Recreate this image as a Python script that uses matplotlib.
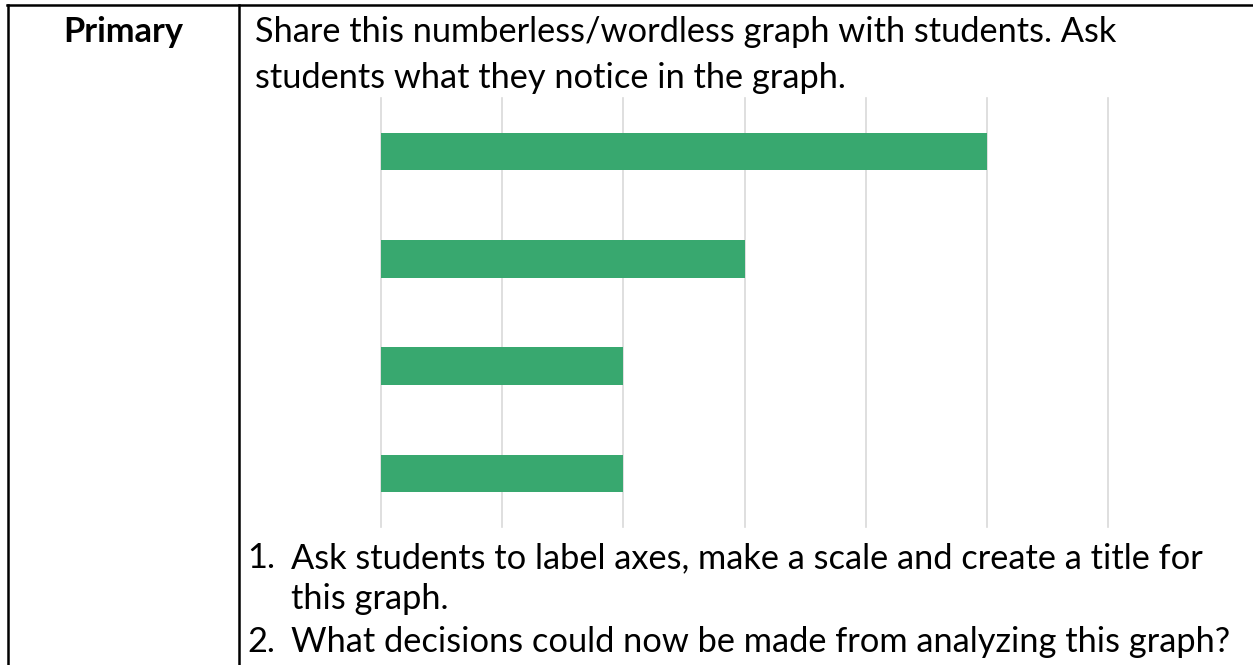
import matplotlib
matplotlib.use("Agg")
import matplotlib.pyplot as plt
from matplotlib.lines import Line2D

# wordless bar chart: four bars, no labels
categories = ["", "", "", ""]
values = [5, 3, 2, 2]
x_max = 6

header = "Primary"
intro = ["Share this numberless/wordless graph with students. Ask",
         "students what they notice in the graph."]
steps = [("1.", ["Ask students to label axes, make a scale and create a title for",
                 "this graph."]),
         ("2.", ["What decisions could now be made from analyzing this graph?"])]

W, H = 1253, 665
plt.rcParams['font.family'] = ['Lato', 'DejaVu Sans']

fig = plt.figure(figsize=(W / 100, H / 100), dpi=100)


def px(x, y):
    # pixel coords (from top-left) -> figure fraction
    return x / W, 1 - y / H


def fit_size(s, width, weight="normal"):
    t = fig.text(0, 0, s, fontsize=20, weight=weight)
    r = fig.canvas.get_renderer()
    w = t.get_window_extent(r).width
    t.remove()
    return 20 * width / w


body_fs = fit_size(intro[0], 865)
head_fs = fit_size(header, 120, weight="bold")

# table borders
for (x0, y0, x1, y1) in [(7, 5, W, 5), (8, 5, 8, H), (239, 5, 239, H)]:
    a, b = px(x0, y0)
    c, d = px(x1, y1)
    fig.add_artist(Line2D([a, c], [b, d], color="black", lw=1.8))

fig.text(*px(123, 42), header, fontsize=head_fs, weight="bold",
         ha="center", va="baseline", color="black")
for i, line in enumerate(intro):
    fig.text(*px(255, 42 + 46 * i), line, fontsize=body_fs, va="baseline")

base = [[568, 609], [652]]
for (num, lines), ys in zip(steps, base):
    fig.text(*px(247, ys[0]), num, fontsize=body_fs, va="baseline")
    for line, y in zip(lines, ys):
        fig.text(*px(291, y), line, fontsize=body_fs, va="baseline")

# chart
l, t = px(381, 98)
r, b = px(1108, 527)
ax = fig.add_axes([l, b, r - l, t - b])
pos = list(range(len(values)))
ax.barh(pos, values, height=0.35, color="#38a86f", zorder=2)
ax.set_ylim(len(values) - 0.5, -0.5)
ax.set_xlim(0, x_max)
ax.set_xticks(range(x_max + 1))
ax.set_yticks([])
ax.tick_params(axis="x", length=0, labelbottom=False)
ax.grid(axis="x", color="#d9d9d9", lw=1.2, zorder=0)
for g in ax.get_xgridlines():
    g.set_clip_on(False)
for s in ax.spines.values():
    s.set_visible(False)

fig.savefig("out.png", dpi=100)
